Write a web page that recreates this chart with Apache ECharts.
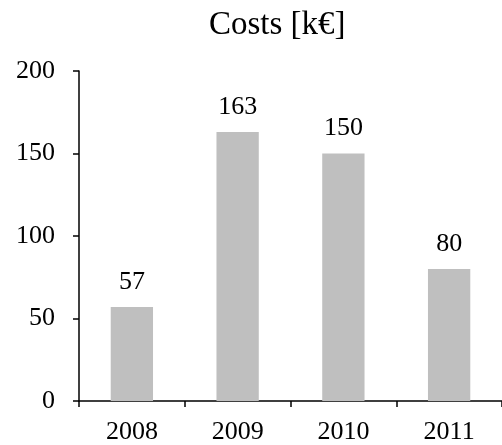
<!DOCTYPE html>
<html><head><meta charset="utf-8">
<script src="https://cdn.jsdelivr.net/npm/echarts@6/dist/echarts.min.js"></script>
<style>html,body{margin:0;padding:0;background:#fff}#c{width:502px;height:445px}</style>
</head><body><div id="c"></div>
<script>
const categories = ['2008', '2009', '2010', '2011'];
const costs = [57, 163, 150, 80];
const yTicks = [0, 50, 100, 150, 200];

const font = '"Liberation Serif", "Times New Roman", serif';
const chart = echarts.init(document.getElementById('c'));
chart.setOption({
  animation: false,
  title: {
    text: 'Costs [k€]', left: 204, top: 4,
    textStyle: { fontFamily: font, fontSize: 33, fontWeight: 'normal', color: '#000' }
  },
  grid: { left: 79, right: -9, top: 71, bottom: 43, containLabel: false },
  xAxis: {
    type: 'category', data: categories, boundaryGap: true,
    axisLine: { lineStyle: { color: '#000', width: 1.5 } },
    axisTick: { show: true, alignWithLabel: false, length: 6, lineStyle: { color: '#000', width: 1.5 } },
    axisLabel: { margin: 18, fontFamily: font, fontSize: 26, color: '#000' }
  },
  yAxis: {
    type: 'value', min: yTicks[0], max: yTicks[yTicks.length - 1], interval: 50,
    axisLine: { show: true, lineStyle: { color: '#000', width: 1.5 } },
    axisTick: { show: true, length: 6, lineStyle: { color: '#000', width: 1.5 } },
    splitLine: { show: false },
    axisLabel: { margin: 24, fontFamily: font, fontSize: 26, color: '#000' }
  },
  series: [{
    type: 'bar', data: costs, barWidth: '40%',
    itemStyle: { color: '#bfbfbf' },
    label: { show: true, position: 'top', distance: 12, fontFamily: font, fontSize: 26, color: '#000' }
  }]
});
</script></body></html>
